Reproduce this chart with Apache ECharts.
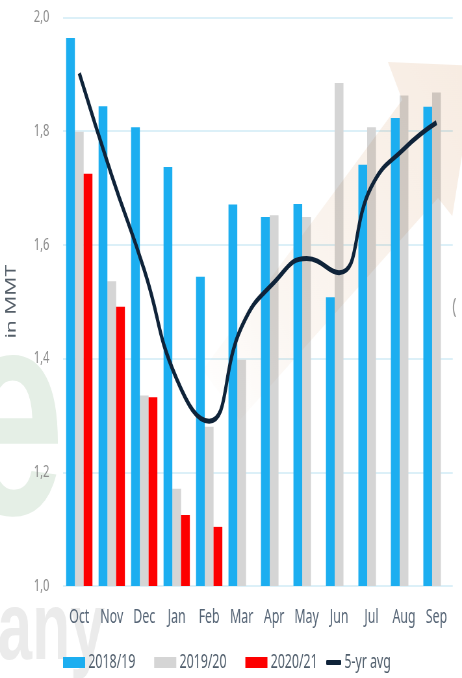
<!DOCTYPE html>
<html>
<head>
<meta charset="utf-8">
<script src="https://cdn.jsdelivr.net/npm/echarts@6/dist/echarts.min.js"></script>
<style>
  html, body { margin: 0; padding: 0; background: #ffffff; overflow: hidden; }
  /* the chart is laid out wide and compressed horizontally to the 462px page */
  #chart { width: 711px; height: 678px; transform: scaleX(0.6498); transform-origin: 0 0; }
</style>
</head>
<body>
<div id="chart"></div>
<script>
// Months of the marketing year
const months = ['Oct', 'Nov', 'Dec', 'Jan', 'Feb', 'Mar', 'Apr', 'May', 'Jun', 'Jul', 'Aug', 'Sep'];

// Monthly volumes, in MMT
const season1819 = [1.964, 1.844, 1.807, 1.737, 1.544, 1.671, 1.649, 1.672, 1.508, 1.741, 1.823, 1.843];
const season1920 = [1.799, 1.536, 1.335, 1.171, 1.280, 1.398, 1.652, 1.649, 1.885, 1.807, 1.863, 1.868];
const season2021 = [1.725, 1.491, 1.332, 1.125, 1.104, null, null, null, null, null, null, null];
const fiveYrAvg  = [1.902, 1.722, 1.556, 1.364, 1.290, 1.456, 1.534, 1.576, 1.551, 1.703, 1.769, 1.815];

// Value axis range and step
const yMin = 1.0;
const yMax = 2.0;
const yStep = 0.2;

const seriesNames = ['2018/19', '2019/20', '2020/21', '5-yr avg'];

const FONT = '"Noto Sans", "Liberation Sans", sans-serif';

const chart = echarts.init(document.getElementById('chart'));

chart.setOption({
  backgroundColor: '#ffffff',
  animation: false,
  grid: { left: 86.2, right: 14.3, top: 17.5, bottom: 92 },
  legend: [
    {
      data: seriesNames.slice(0, 3),
      left: 92, top: 648,
      icon: 'rect', itemWidth: 34, itemHeight: 11, itemGap: 29,
      textStyle: { fontFamily: FONT, fontSize: 19, color: '#4f5d6b' }
    },
    {
      data: [seriesNames[3]],
      left: 497, top: 648,
      icon: 'roundRect', itemWidth: 23, itemHeight: 5,
      textStyle: { fontFamily: FONT, fontSize: 19, color: '#4f5d6b' }
    }
  ],
  xAxis: {
    type: 'category',
    data: months,
    axisLine: { show: false },
    axisTick: { show: false },
    axisLabel: { margin: 22, fontFamily: FONT, fontSize: 19, color: '#566576' }
  },
  yAxis: {
    type: 'value',
    min: yMin, max: yMax, interval: yStep,
    name: 'in MMT',
    nameLocation: 'middle',
    nameRotate: 90,
    nameGap: 68,
    nameTextStyle: { fontFamily: FONT, fontSize: 21, color: '#555f69' },
    axisLine: { show: false },
    axisTick: { show: false },
    splitLine: { lineStyle: { color: '#dcf0f8', width: 2 } },
    axisLabel: {
      margin: 21,
      fontFamily: FONT, fontSize: 17, color: '#8c8c8c',
      formatter: v => v.toFixed(1).replace('.', ',')
    }
  },
  graphic: [
    // faded green letter of the company mark
    {
      type: 'text', left: -65, top: 285, z: -1, silent: true,
      style: { text: 'e', font: 'bold 295px "Liberation Sans", sans-serif', fill: '#e5efe6' }
    },
    {
      type: 'text', left: -4, top: 585, z: -1, silent: true,
      style: { text: 'any', font: 'bold 96px "Liberation Sans", sans-serif', fill: '#ebebeb' }
    },
    {
      type: 'text', left: 696, top: 297, z: 1, silent: true,
      style: { text: '(', font: '22px "Noto Sans", sans-serif', fill: '#9a9a9a' }
    },
    // rising trend arrow behind the marks
    {
      type: 'polygon', z: 3, silent: true,
      shape: {
        points: [
          [312, 370], [619, 100], [597, 62], [733, 66], [696, 216], [674, 198], [369, 420]
        ]
      },
      style: {
        blend: 'multiply',
        fill: new echarts.graphic.LinearGradient(0, 1, 1, 0, [
          { offset: 0, color: 'rgba(232,200,172,0)' },
          { offset: 0.3, color: 'rgba(232,200,172,0.16)' },
          { offset: 1, color: 'rgba(232,198,168,0.34)' }
        ])
      }
    }
  ],
  series: [
    {
      name: seriesNames[0], type: 'bar', data: season1819, z: 4,
      barWidth: '27%', barGap: '0%',
      itemStyle: { color: '#1caef0' }
    },
    {
      name: seriesNames[1], type: 'bar', data: season1920, z: 2,
      barWidth: '27%', barGap: '0%',
      itemStyle: { color: '#d5d5d5' }
    },
    {
      name: seriesNames[2], type: 'bar', data: season2021, z: 2,
      barWidth: '27%', barGap: '0%',
      itemStyle: { color: '#fd0000' }
    },
    {
      name: seriesNames[3], type: 'line', data: fiveYrAvg, z: 6,
      smooth: 0.5, symbol: 'none',
      lineStyle: { color: '#0f2339', width: 5 },
      itemStyle: { color: '#0f2339' }
    }
  ]
});
</script>
</body>
</html>
